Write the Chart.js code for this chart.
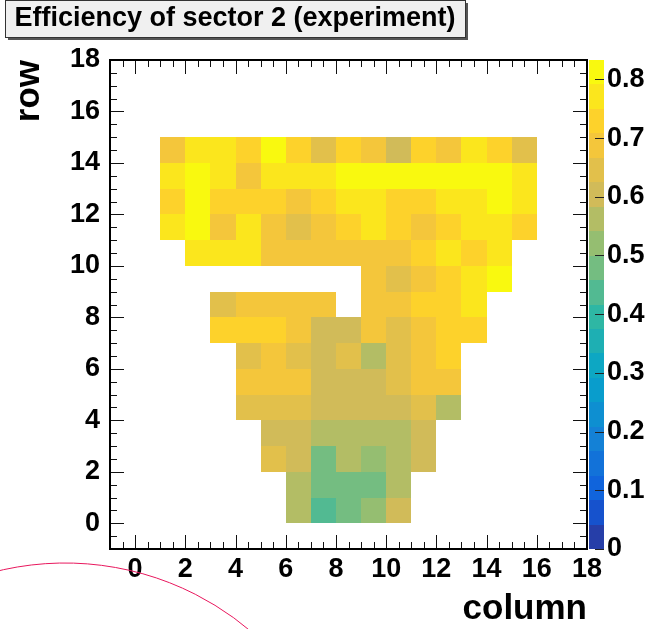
<!DOCTYPE html>
<html>
<head>
<meta charset="utf-8">
<script src="https://cdn.jsdelivr.net/npm/chart.js@4.4.1/dist/chart.umd.min.js"></script>
<style>
  html, body { margin: 0; padding: 0; background: #fff; }
</style>
</head>
<body>
<canvas id="effChart" width="664" height="629"></canvas>
<script>
/* ===== Data ===== */
const TITLE = "Efficiency of sector 2 (experiment)";
const X_TITLE = "column";
const Y_TITLE = "row";

// bin low edges, each bin is 1 wide
const columns = [1, 2, 3, 4, 5, 6, 7, 8, 9, 10, 11, 12, 13, 14, 15];

// efficiency per row (index = column - 1), null = empty bin
const row0  = [null, null, null, null, null, 0.56, 0.44, 0.48, 0.52, 0.60, null, null, null, null, null];
const row1  = [null, null, null, null, null, 0.56, 0.47, 0.48, 0.49, 0.57, null, null, null, null, null];
const row2  = [null, null, null, null, 0.64, 0.60, 0.48, 0.56, 0.52, 0.57, 0.61, null, null, null, null];
const row3  = [null, null, null, null, 0.60, 0.61, 0.56, 0.57, 0.55, 0.56, 0.60, null, null, null, null];
const row4  = [null, null, null, 0.65, 0.64, 0.65, 0.60, 0.61, 0.60, 0.59, 0.64, 0.56, null, null, null];
const row5  = [null, null, null, 0.69, 0.70, 0.68, 0.60, 0.61, 0.59, 0.64, 0.69, 0.70, null, null, null];
const row6  = [null, null, null, 0.64, 0.69, 0.65, 0.60, 0.64, 0.56, 0.65, 0.69, 0.73, null, null, null];
const row7  = [null, null, 0.73, 0.74, 0.73, 0.69, 0.60, 0.61, 0.70, 0.65, 0.69, 0.73, 0.72, null, null];
const row8  = [null, null, 0.64, 0.69, 0.70, 0.69, 0.68, null, 0.69, 0.70, 0.73, 0.72, 0.77, null, null];
const row9  = [null, null, null, null, null, null, null, null, 0.69, 0.65, 0.68, 0.73, 0.77, 0.81, null];
const row10 = [null, 0.77, 0.78, 0.76, 0.69, 0.70, 0.68, 0.69, 0.70, 0.69, 0.73, 0.77, 0.72, 0.77, null];
const row11 = [0.77, 0.82, 0.69, 0.76, 0.68, 0.64, 0.70, 0.73, 0.78, 0.72, 0.69, 0.74, 0.77, 0.76, 0.73];
const row12 = [0.73, 0.81, 0.72, 0.73, 0.74, 0.69, 0.73, 0.77, 0.76, 0.72, 0.73, 0.78, 0.77, 0.80, 0.77];
const row13 = [0.77, 0.81, 0.76, 0.69, 0.78, 0.77, 0.77, 0.80, 0.82, 0.81, 0.833, 0.81, 0.80, 0.82, 0.78];
const row14 = [0.69, 0.77, 0.78, 0.73, 0.82, 0.72, 0.64, 0.74, 0.70, 0.61, 0.73, 0.69, 0.77, 0.72, 0.65];
const rowsData = [row0, row1, row2, row3, row4, row5, row6, row7, row8, row9, row10, row11, row12, row13, row14];

const xTicks = [0, 2, 4, 6, 8, 10, 12, 14, 16, 18];
const yTicks = [0, 2, 4, 6, 8, 10, 12, 14, 16, 18];
const zTicks = [0, 0.1, 0.2, 0.3, 0.4, 0.5, 0.6, 0.7, 0.8];
const AXIS_MIN = -1, AXIS_MAX = 18;
const Z_MAX = 0.833;
const N_LEVELS = 20;

/* ===== kBird palette (ROOT) ===== */
const BIRD_STOPS = [0.0, 0.125, 0.25, 0.375, 0.5, 0.625, 0.75, 0.875, 1.0];
const BIRD_R = [0.2082, 0.0592, 0.0780, 0.0232, 0.1802, 0.5301, 0.8186, 0.9956, 0.9764];
const BIRD_G = [0.1664, 0.3599, 0.5041, 0.6419, 0.7178, 0.7492, 0.7328, 0.7862, 0.9832];
const BIRD_B = [0.5293, 0.8684, 0.8385, 0.7914, 0.6425, 0.4662, 0.3499, 0.1968, 0.0539];

function paletteColor(i) {
  let g = 1;
  while (g < BIRD_STOPS.length - 1 && i >= Math.floor(255 * BIRD_STOPS[g])) g++;
  const start = Math.floor(255 * BIRD_STOPS[g - 1]);
  const n = Math.floor(255 * BIRD_STOPS[g]) - start;
  const f = (i - start) / n;
  const c = arr => Math.round(255 * (arr[g - 1] + (arr[g] - arr[g - 1]) * f));
  return `rgb(${c(BIRD_R)},${c(BIRD_G)},${c(BIRD_B)})`;
}
function levelColor(level) {
  return paletteColor(Math.min(254, Math.floor((level + 0.99) * 255 / N_LEVELS)));
}
function valueLevel(v) {
  return Math.min(N_LEVELS - 1, Math.floor(0.01 + v / Z_MAX * N_LEVELS));
}

const cells = [];
rowsData.forEach((vals, r) => vals.forEach((v, i) => {
  if (v !== null) cells.push({ x: columns[i], y: r, v });
}));

const FONT = "'Liberation Sans', Arial, Helvetica, sans-serif";
const tickFont = { family: FONT, size: 27, weight: "bold" };
const titleFont = { family: FONT, size: 35, weight: "bold", lineHeight: 1 };

/* ===== Plugins ===== */
const heatmapPlugin = {
  id: "heatmap",
  beforeDatasetsDraw(chart) {
    const { ctx, scales: { x, y } } = chart;
    ctx.save();
    chart.data.datasets[0].data.forEach(c => {
      const x0 = Math.round(x.getPixelForValue(c.x));
      const x1 = Math.round(x.getPixelForValue(c.x + 1));
      const y0 = Math.round(y.getPixelForValue(c.y + 1));
      const y1 = Math.round(y.getPixelForValue(c.y));
      ctx.fillStyle = levelColor(valueLevel(c.v));
      ctx.fillRect(x0, y0, x1 - x0, y1 - y0);
    });
    ctx.restore();
  }
};

const framePlugin = {
  id: "frame",
  afterDraw(chart) {
    const { ctx, chartArea: a, scales: { x, y, z } } = chart;
    ctx.save();

    // colour bar
    const barL = Math.round(a.right) + 2, barW = 15;
    for (let k = 0; k < N_LEVELS; k++) {
      const t = Math.round(z.getPixelForValue((k + 1) * Z_MAX / N_LEVELS));
      const b = Math.round(z.getPixelForValue(k * Z_MAX / N_LEVELS));
      ctx.fillStyle = levelColor(k);
      ctx.fillRect(barL, t, barW, b - t);
    }
    ctx.strokeStyle = "#222";
    ctx.lineWidth = 1;
    ctx.beginPath();
    zTicks.forEach(v => {
      const py = Math.round(z.getPixelForValue(v)) + 0.5;
      ctx.moveTo(barL + barW, py);
      ctx.lineTo(barL + barW - 9, py);
    });
    ctx.stroke();

    // inward tick marks on all four sides
    ctx.strokeStyle = "#111";
    ctx.beginPath();
    for (let v = AXIS_MIN; v <= AXIS_MAX + 1e-9; v += 0.5) {
      const len = xTicks.includes(v) ? 14 : 7;
      const px = Math.round(x.getPixelForValue(v)) + 0.5;
      ctx.moveTo(px, a.bottom); ctx.lineTo(px, a.bottom - len);
      ctx.moveTo(px, a.top); ctx.lineTo(px, a.top + len);
      const lenY = yTicks.includes(v) ? 14 : 7;
      const py = Math.round(y.getPixelForValue(v)) + 0.5;
      ctx.moveTo(a.left, py); ctx.lineTo(a.left + lenY, py);
      ctx.moveTo(a.right, py); ctx.lineTo(a.right - lenY, py);
    }
    ctx.stroke();

    // frame
    ctx.strokeStyle = "#000";
    ctx.lineWidth = 2;
    ctx.strokeRect(a.left, a.top, a.right - a.left, a.bottom - a.top);

    // title box
    ctx.fillStyle = "#555";
    ctx.fillRect(8, 3, 460, 37);
    ctx.fillStyle = "#f0f0f0";
    ctx.fillRect(5, 0, 460, 37);
    ctx.strokeStyle = "#333";
    ctx.lineWidth = 1;
    ctx.strokeRect(5.5, 0.5, 460, 37);
    ctx.fillStyle = "#000";
    ctx.font = `bold 27px ${FONT}`;
    ctx.textAlign = "center";
    ctx.textBaseline = "middle";
    ctx.fillText(TITLE, 235, 19);

    // stray arc in the lower left corner
    ctx.strokeStyle = "#e8175d";
    ctx.lineWidth = 1;
    ctx.beginPath();
    ctx.arc(65, 850, 287, Math.PI * 1.15, Math.PI * 1.75);
    ctx.stroke();
    ctx.restore();
  }
};

/* ===== Chart ===== */
new Chart(document.getElementById("effChart"), {
  type: "scatter",
  data: {
    datasets: [{
      label: "efficiency",
      data: cells,
      pointRadius: 0,
      pointHoverRadius: 0,
    }],
  },
  options: {
    responsive: false,
    devicePixelRatio: 1,
    animation: false,
    events: [],
    layout: { padding: { top: 60, left: 0, right: 0, bottom: 0 } },
    plugins: { legend: { display: false }, tooltip: { enabled: false } },
    scales: {
      x: {
        type: "linear", position: "bottom", min: AXIS_MIN, max: AXIS_MAX,
        grid: { display: false, drawTicks: false }, border: { display: false },
        afterBuildTicks: s => { s.ticks = xTicks.map(v => ({ value: v })); },
        afterFit: s => { s.height = 80; },
        ticks: { font: tickFont, color: "#000", padding: 4, maxRotation: 0, autoSkip: false },
        title: { display: true, text: X_TITLE, align: "end", font: titleFont, color: "#000", padding: { top: 0, bottom: 2 } },
      },
      y: {
        type: "linear", position: "left", min: AXIS_MIN, max: AXIS_MAX,
        grid: { display: false, drawTicks: false }, border: { display: false },
        afterBuildTicks: s => { s.ticks = yTicks.map(v => ({ value: v })); },
        afterFit: s => { s.width = 110; },
        ticks: { font: tickFont, color: "#000", padding: 10, autoSkip: false },
        title: { display: true, text: Y_TITLE, align: "end", font: titleFont, color: "#000", padding: { top: 12, bottom: 0 } },
      },
      z: {
        type: "linear", axis: "y", position: "right", min: 0, max: Z_MAX,
        grid: { display: false, drawTicks: false }, border: { display: false },
        afterBuildTicks: s => { s.ticks = zTicks.map(v => ({ value: v })); },
        afterFit: s => { s.width = 77; },
        ticks: {
          font: tickFont, color: "#000", padding: 20, autoSkip: false,
          callback: v => v === 0 ? "0" : v.toFixed(1),
        },
      },
    },
  },
  plugins: [heatmapPlugin, framePlugin],
});
</script>
</body>
</html>
